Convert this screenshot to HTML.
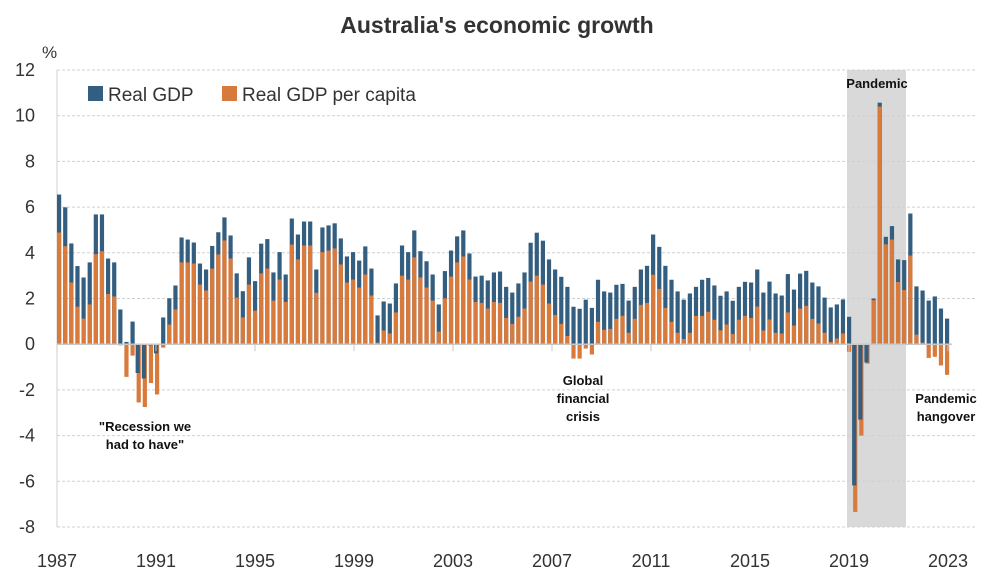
<!DOCTYPE html>
<html><head><meta charset="utf-8"><style>
html,body{margin:0;padding:0;background:#fff;}
svg{display:block;font-family:"Liberation Sans",sans-serif;}
</style></head><body>
<svg id="c" width="996" height="577" xmlns="http://www.w3.org/2000/svg">
<rect width="996" height="577" fill="#fff"/>
<text x="497" y="33" text-anchor="middle" font-size="23" font-weight="bold" fill="#333">Australia's economic growth</text>
<rect x="847" y="70" width="59" height="457" fill="#d9d9d9"/>
<g id="grid"></g>
<g id="bars"></g>
<g id="lbl" font-size="18" fill="#333"></g>
<text x="42" y="58" font-size="17" fill="#333">%</text>
<rect x="88" y="86" width="15" height="15" fill="#335e80"/>
<text x="108" y="101" font-size="19" fill="#333">Real GDP</text>
<rect x="222" y="86" width="15" height="15" fill="#d87a3c"/>
<text x="242" y="101" font-size="19" fill="#333">Real GDP per capita</text>
<g font-size="13" font-weight="bold" fill="#111" text-anchor="middle">
<text x="145" y="431">"Recession we</text>
<text x="145" y="449">had to have"</text>
<text x="583" y="385">Global</text>
<text x="583" y="403">financial</text>
<text x="583" y="421">crisis</text>
<text x="877" y="88">Pandemic</text>
<text x="946" y="403">Pandemic</text>
<text x="946" y="421">hangover</text>
</g>
</svg>
<script>
var B=[6.55,5.99,4.41,3.42,2.92,3.58,5.68,5.68,3.75,3.58,1.52,0.1,0.99,-1.26,-1.5,-0.05,-0.4,1.17,2.01,2.57,4.67,4.58,4.45,3.53,3.27,4.3,4.9,5.55,4.76,3.1,2.32,3.8,2.76,4.4,4.6,
3.14,4.03,3.05,5.5,4.8,5.37,5.37,3.27,5.11,5.2,5.29,4.63,3.84,4.03,3.66,4.28,3.31,1.26,1.87,1.78,2.66,4.32,4.03,4.98,4.07,3.63,3.05,1.74,3.2,4.1,4.72,4.98,3.97,2.96,3.0,2.79,3.14,3.18,
2.51,2.26,2.66,3.14,4.44,4.88,4.53,3.71,3.27,2.95,2.51,1.64,1.55,1.95,1.59,2.82,2.31,2.26,2.6,2.64,1.91,2.51,3.27,3.43,4.8,4.26,3.43,2.82,2.31,1.95,2.22,2.51,2.82,2.9,2.57,2.12,
2.31,1.9,2.51,2.73,2.7,3.27,2.26,2.74,2.22,2.13,3.07,2.39,3.09,3.21,2.7,2.53,2.04,1.61,1.74,1.96,1.2,-6.18,-3.3,-0.8,2.0,10.57,4.7,5.17,3.71,3.68,5.72,2.53,2.35,1.91,2.09,1.56,1.12];
var O=[4.89,4.29,2.7,1.64,1.12,1.74,3.94,4.07,2.2,2.09,-0.05,-1.43,-0.5,-2.55,-2.75,-1.7,-2.2,-0.15,0.86,1.52,3.58,3.58,3.53,2.61,2.35,3.31,3.93,4.54,3.75,2.04,1.17,2.61,1.47,3.1,3.31,
1.91,2.83,1.85,4.36,3.71,4.32,4.32,2.25,4.03,4.1,4.19,3.49,2.7,2.83,2.48,3.05,2.13,0.07,0.6,0.47,1.39,3.0,2.83,3.8,2.92,2.48,1.91,0.55,2.01,2.96,3.58,3.84,2.83,1.85,1.81,1.56,1.85,1.81,
1.15,0.89,1.2,1.56,2.74,3.0,2.61,1.78,1.28,0.89,0.36,-0.63,-0.63,-0.19,-0.45,0.98,0.63,0.67,1.11,1.24,0.5,1.11,1.72,1.81,3.04,2.42,1.59,0.98,0.5,0.23,0.5,1.24,1.24,1.42,1.07,0.61,
0.86,0.45,1.07,1.24,1.15,1.65,0.6,1.08,0.5,0.47,1.39,0.82,1.56,1.68,1.11,0.91,0.5,0.1,0.25,0.47,-0.33,-7.34,-4.0,-0.85,1.93,10.4,4.37,4.58,2.72,2.37,3.88,0.42,0.07,-0.6,-0.55,-0.93,-1.34];
var NS="http://www.w3.org/2000/svg",U=22.85,Z=344.2;
function el(p,t,a){var e=document.createElementNS(NS,t);for(var k in a)e.setAttribute(k,a[k]);document.getElementById(p).appendChild(e);return e;}
for(var v=-8;v<=12;v+=2){var y=Z-v*U;
 if(v!=0)el("grid","line",{x1:57,x2:975,y1:y,y2:y,stroke:"#d0d0d0","stroke-dasharray":"3,2","stroke-width":1});
 var t=el("lbl","text",{x:35,y:y+6,"text-anchor":"end"});t.textContent=v;}
el("grid","line",{x1:57,x2:57,y1:70,y2:527,stroke:"#d0d0d0","stroke-width":1});
function bar(x,v,c){var y=v>=0?Z-v*U:Z;var h=Math.abs(v)*U;el("bars","rect",{x:x-2,y:y,width:4.2,height:Math.max(h,0.5),fill:c});}
for(var i=0;i<B.length;i++){var x=59+i*6.124;
 if(B[i]<0&&O[i]<0){bar(x,O[i],"#d87a3c");bar(x-1,B[i],"#335e80");}
 else{bar(x,B[i],"#335e80");bar(x,O[i],"#d87a3c");}}
el("bars","line",{x1:57,x2:952,y1:Z,y2:Z,stroke:"#c8c8c8","stroke-width":1.5});
var yrs=[1987,1991,1995,1999,2003,2007,2011,2015,2019,2023];
for(var j=0;j<yrs.length;j++){var x=57+j*4*24.75;
 el("bars","line",{x1:x,x2:x,y1:Z,y2:Z+7,stroke:"#c8c8c8","stroke-width":1});
 var t=el("lbl","text",{x:x,y:567,"text-anchor":"middle"});t.textContent=yrs[j];}
</script>
</body></html>
